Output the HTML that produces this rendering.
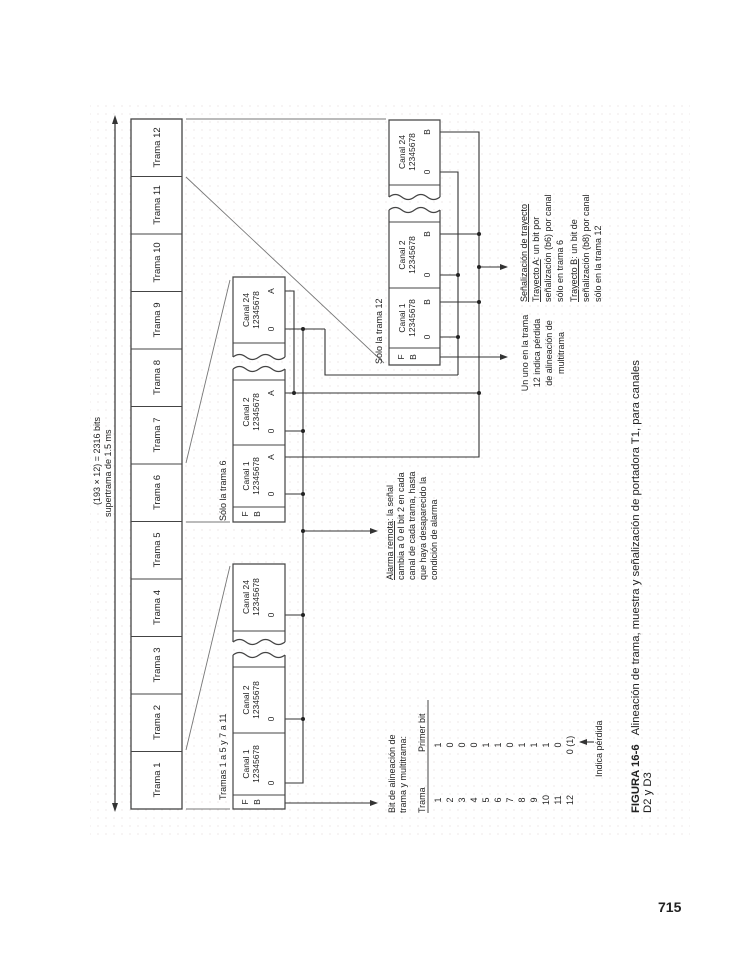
<!DOCTYPE html>
<html><head><meta charset="utf-8"><style>
html,body{margin:0;padding:0;background:#fff;}
svg{display:block;}
text{font-family:"Liberation Sans",sans-serif;fill:#222;}
</style></head><body>
<svg width="754" height="962" viewBox="0 0 754 962" xmlns="http://www.w3.org/2000/svg">
<defs>
<pattern id="dots" width="8" height="8" patternUnits="userSpaceOnUse"><circle cx="2" cy="2" r="0.6" fill="#e4d6d6"/></pattern>
<marker id="ar" markerWidth="8" markerHeight="8" refX="7" refY="4" orient="auto" markerUnits="userSpaceOnUse"><path d="M0,1 L8,4 L0,7 z" fill="#333"/></marker>
</defs>
<rect x="90" y="100" width="600" height="740" fill="url(#dots)"/>
<g stroke="#333" stroke-width="1.2" fill="none">
<line x1="115" y1="122" x2="115" y2="806"/>
</g>
<path d="M115,115 l-3,9 h6 z M115,812 l-3,-9 h6 z" fill="#333"/>
<text transform="translate(100,505) rotate(-90)" font-size="9">(193 × 12) = 2316 bits</text>
<text transform="translate(111,517) rotate(-90)" font-size="9">supertrama de 1.5 ms</text>

<g stroke="#444" stroke-width="1.3" fill="#fff">
<rect x="131" y="119" width="51" height="690"/>
</g>
<g stroke="#444" stroke-width="1.1">
<line x1="131" y1="176.5" x2="182" y2="176.5"/><line x1="131" y1="234" x2="182" y2="234"/>
<line x1="131" y1="291.5" x2="182" y2="291.5"/><line x1="131" y1="349" x2="182" y2="349"/>
<line x1="131" y1="406.5" x2="182" y2="406.5"/><line x1="131" y1="464" x2="182" y2="464"/>
<line x1="131" y1="521.5" x2="182" y2="521.5"/><line x1="131" y1="579" x2="182" y2="579"/>
<line x1="131" y1="636.5" x2="182" y2="636.5"/><line x1="131" y1="694" x2="182" y2="694"/>
<line x1="131" y1="751.5" x2="182" y2="751.5"/>
</g>
<g font-size="9.5" text-anchor="middle">
<text transform="translate(160,780) rotate(-90)">Trama 1</text>
<text transform="translate(160,722.5) rotate(-90)">Trama 2</text>
<text transform="translate(160,665) rotate(-90)">Trama 3</text>
<text transform="translate(160,607.5) rotate(-90)">Trama 4</text>
<text transform="translate(160,550) rotate(-90)">Trama 5</text>
<text transform="translate(160,492.5) rotate(-90)">Trama 6</text>
<text transform="translate(160,435) rotate(-90)">Trama 7</text>
<text transform="translate(160,377.5) rotate(-90)">Trama 8</text>
<text transform="translate(160,320) rotate(-90)">Trama 9</text>
<text transform="translate(160,262.5) rotate(-90)">Trama 10</text>
<text transform="translate(160,205) rotate(-90)">Trama 11</text>
<text transform="translate(160,147.5) rotate(-90)">Trama 12</text>
</g>

<g stroke="#777" stroke-width="0.9">
<line x1="186" y1="119" x2="386" y2="119"/>
<line x1="186" y1="177" x2="384" y2="363"/>
<line x1="186" y1="463" x2="230" y2="280"/>
<line x1="186" y1="522" x2="230" y2="522"/>
<line x1="186" y1="750" x2="230" y2="566"/>
<line x1="186" y1="809" x2="230" y2="809"/>
</g>

<g stroke="#333" stroke-width="1.1" fill="none">
<line x1="278" y1="615" x2="303" y2="615"/>
<line x1="278" y1="719" x2="303" y2="719"/>
<polyline points="278,783 303,783 303,329"/>
<line x1="278" y1="329" x2="325" y2="329"/>
<polyline points="325,329 325,375 458,375"/>
<line x1="278" y1="431" x2="303" y2="431"/>
<line x1="278" y1="494" x2="303" y2="494"/>
<polyline points="278,291 294,291 294,393"/>
<line x1="278" y1="393" x2="479" y2="393"/>
<polyline points="278,457 479,457 479,132 432,132"/>
<line x1="303" y1="531" x2="377" y2="531" marker-end="url(#ar)"/>
<line x1="285" y1="803" x2="377" y2="803" marker-end="url(#ar)"/>
<polyline points="432,172 458,172 458,375"/>
<line x1="432" y1="275" x2="458" y2="275"/>
<line x1="432" y1="337" x2="458" y2="337"/>
<line x1="432" y1="234" x2="479" y2="234"/>
<line x1="432" y1="302" x2="479" y2="302"/>
<line x1="479" y1="267" x2="507" y2="267" marker-end="url(#ar)"/>
<line x1="440" y1="357" x2="507" y2="357" marker-end="url(#ar)"/>
<line x1="594" y1="742" x2="580" y2="742" marker-end="url(#ar)"/>
</g>
<g fill="#222">
<circle cx="303" cy="615" r="2"/><circle cx="303" cy="719" r="2"/><circle cx="303" cy="531" r="2"/>
<circle cx="303" cy="494" r="2"/><circle cx="303" cy="431" r="2"/><circle cx="303" cy="329" r="2"/>
<circle cx="294" cy="393" r="2"/><circle cx="479" cy="393" r="2"/><circle cx="479" cy="267" r="2"/>
<circle cx="479" cy="234" r="2"/><circle cx="479" cy="302" r="2"/>
<circle cx="458" cy="275" r="2"/><circle cx="458" cy="337" r="2"/>
</g>

<g stroke="#444" stroke-width="1.2" fill="#fff">
<path d="M233,642 V564 H285 V642"/>
<path d="M233,655 V809 H285 V655"/>
<path d="M233,357 V277 H285 V357"/>
<path d="M233,369 V522 H285 V369"/>
<path d="M389,197 V120 H440 V197"/>
<path d="M389,210 V365 H440 V210"/>
</g>
<g stroke="#444" stroke-width="1.2" fill="none">
<path d="M233,642 q6.5,-5 13,0 t13,0 t13,0 t13,0"/>
<path d="M233,655 q6.5,-5 13,0 t13,0 t13,0 t13,0"/>
<path d="M233,357 q6.5,-5 13,0 t13,0 t13,0 t13,0"/>
<path d="M233,369 q6.5,-5 13,0 t13,0 t13,0 t13,0"/>
<path d="M389,197 q6.4,-5 12.75,0 t12.75,0 t12.75,0 t12.75,0"/>
<path d="M389,210 q6.4,-5 12.75,0 t12.75,0 t12.75,0 t12.75,0"/>
</g>
<g stroke="#444" stroke-width="1">
<line x1="233" y1="631" x2="285" y2="631"/><line x1="233" y1="667" x2="285" y2="667"/>
<line x1="233" y1="733" x2="285" y2="733"/><line x1="233" y1="795" x2="285" y2="795"/>
<line x1="233" y1="343" x2="285" y2="343"/><line x1="233" y1="380" x2="285" y2="380"/>
<line x1="233" y1="445" x2="285" y2="445"/><line x1="233" y1="507" x2="285" y2="507"/>
<line x1="389" y1="185" x2="440" y2="185"/><line x1="389" y1="222" x2="440" y2="222"/>
<line x1="389" y1="288" x2="440" y2="288"/><line x1="389" y1="348" x2="440" y2="348"/>
</g>
<g font-size="8.5" text-anchor="middle">
<text transform="translate(249,597) rotate(-90)">Canal 24</text><text transform="translate(259,597) rotate(-90)">12345678</text>
<text transform="translate(249,700) rotate(-90)">Canal 2</text><text transform="translate(259,700) rotate(-90)">12345678</text>
<text transform="translate(249,764) rotate(-90)">Canal 1</text><text transform="translate(259,764) rotate(-90)">12345678</text>
<text transform="translate(274,615) rotate(-90)">0</text><text transform="translate(274,719) rotate(-90)">0</text><text transform="translate(274,783) rotate(-90)">0</text>
<text transform="translate(248,802) rotate(-90)">F</text><text transform="translate(260,802) rotate(-90)">B</text>
<text transform="translate(249,310) rotate(-90)">Canal 24</text><text transform="translate(259,310) rotate(-90)">12345678</text>
<text transform="translate(249,412) rotate(-90)">Canal 2</text><text transform="translate(259,412) rotate(-90)">12345678</text>
<text transform="translate(249,476) rotate(-90)">Canal 1</text><text transform="translate(259,476) rotate(-90)">12345678</text>
<text transform="translate(274,291) rotate(-90)">A</text><text transform="translate(274,329) rotate(-90)">0</text>
<text transform="translate(274,393) rotate(-90)">A</text><text transform="translate(274,431) rotate(-90)">0</text>
<text transform="translate(274,457) rotate(-90)">A</text><text transform="translate(274,494) rotate(-90)">0</text>
<text transform="translate(248,514) rotate(-90)">F</text><text transform="translate(260,514) rotate(-90)">B</text>
<text transform="translate(405,152) rotate(-90)">Canal 24</text><text transform="translate(415,152) rotate(-90)">12345678</text>
<text transform="translate(405,255) rotate(-90)">Canal 2</text><text transform="translate(415,255) rotate(-90)">12345678</text>
<text transform="translate(405,318) rotate(-90)">Canal 1</text><text transform="translate(415,318) rotate(-90)">12345678</text>
<text transform="translate(430,132) rotate(-90)">B</text><text transform="translate(430,172) rotate(-90)">0</text>
<text transform="translate(430,234) rotate(-90)">B</text><text transform="translate(430,275) rotate(-90)">0</text>
<text transform="translate(430,302) rotate(-90)">B</text><text transform="translate(430,337) rotate(-90)">0</text>
<text transform="translate(404,357) rotate(-90)">F</text><text transform="translate(416,357) rotate(-90)">B</text>
</g>

<g font-size="9">
<text transform="translate(226,800) rotate(-90)">Tramas 1 a 5 y 7 a 11</text>
<text transform="translate(226,521) rotate(-90)">Sólo la trama 6</text>
<text transform="translate(382,364) rotate(-90)">Sólo la trama 12</text>
<text transform="translate(393,580) rotate(-90)"><tspan text-decoration="underline">Alarma remota</tspan>: la señal</text>
<text transform="translate(404,580) rotate(-90)">cambia a 0 el bit 2 en cada</text>
<text transform="translate(415,580) rotate(-90)">canal de cada trama, hasta</text>
<text transform="translate(426,580) rotate(-90)">que haya desaparecido la</text>
<text transform="translate(437,580) rotate(-90)">condición de alarma</text>
<text transform="translate(395,813) rotate(-90)">Bit de alineación de</text>
<text transform="translate(406,813) rotate(-90)">trama y multitrama:</text>
<text transform="translate(425,813) rotate(-90)">Trama</text>
<text transform="translate(425,752) rotate(-90)">Primer bit</text>
<text transform="translate(602,777) rotate(-90)">Indica pérdida</text>
</g>
<line x1="428" y1="813" x2="428" y2="700" stroke="#333" stroke-width="0.9"/>
<g font-size="9" text-anchor="middle">
<text transform="translate(441,800) rotate(-90)">1</text><text transform="translate(441,745) rotate(-90)">1</text>
<text transform="translate(453,800) rotate(-90)">2</text><text transform="translate(453,745) rotate(-90)">0</text>
<text transform="translate(465,800) rotate(-90)">3</text><text transform="translate(465,745) rotate(-90)">0</text>
<text transform="translate(477,800) rotate(-90)">4</text><text transform="translate(477,745) rotate(-90)">0</text>
<text transform="translate(489,800) rotate(-90)">5</text><text transform="translate(489,745) rotate(-90)">1</text>
<text transform="translate(501,800) rotate(-90)">6</text><text transform="translate(501,745) rotate(-90)">1</text>
<text transform="translate(513,800) rotate(-90)">7</text><text transform="translate(513,745) rotate(-90)">0</text>
<text transform="translate(525,800) rotate(-90)">8</text><text transform="translate(525,745) rotate(-90)">1</text>
<text transform="translate(537,800) rotate(-90)">9</text><text transform="translate(537,745) rotate(-90)">1</text>
<text transform="translate(549,800) rotate(-90)">10</text><text transform="translate(549,745) rotate(-90)">1</text>
<text transform="translate(561,800) rotate(-90)">11</text><text transform="translate(561,745) rotate(-90)">0</text>
<text transform="translate(573,800) rotate(-90)">12</text><text transform="translate(573,745) rotate(-90)">0 (1)</text>
</g>
<g font-size="9" text-anchor="middle">
<text transform="translate(528,353) rotate(-90)">Un uno en la trama</text>
<text transform="translate(540,353) rotate(-90)">12 indica pérdida</text>
<text transform="translate(552,353) rotate(-90)">de alineación de</text>
<text transform="translate(564,353) rotate(-90)">multitrama</text>
</g>
<g font-size="9">
<text transform="translate(527,302) rotate(-90)" text-decoration="underline">Señalización de trayecto</text>
<text transform="translate(539,302) rotate(-90)"><tspan text-decoration="underline">Trayecto A</tspan>: un bit por</text>
<text transform="translate(551,302) rotate(-90)">señalización (b6) por canal</text>
<text transform="translate(563,302) rotate(-90)">sólo en trama 6</text>
<text transform="translate(577,302) rotate(-90)"><tspan text-decoration="underline">Trayecto B</tspan>: un bit de</text>
<text transform="translate(589,302) rotate(-90)">señalización (b8) por canal</text>
<text transform="translate(601,302) rotate(-90)">sólo en la trama 12</text>
</g>
<text transform="translate(639,813) rotate(-90)" font-size="11.3"><tspan font-weight="bold">FIGURA 16-6</tspan><tspan dx="9">Alineación de trama, muestra y señalización de portadora T1, para canales</tspan></text>
<text transform="translate(651,813) rotate(-90)" font-size="11.3">D2 y D3</text>
<text x="658" y="912" font-size="14" font-weight="bold">715</text>
</svg>
</body></html>
